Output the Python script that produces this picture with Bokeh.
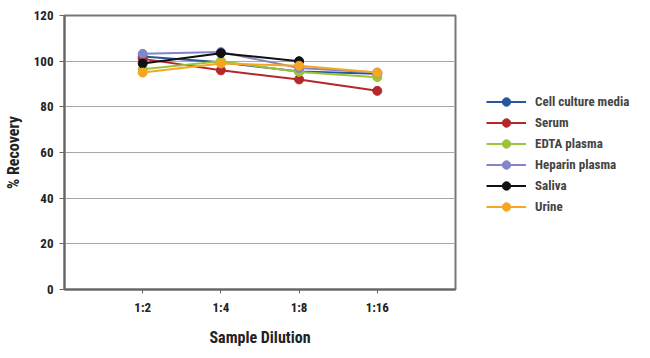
from bokeh.plotting import figure
from bokeh.models import FixedTicker, Legend, LegendItem, Range1d
from bokeh.embed import file_html
from bokeh.resources import INLINE
import numpy as np

dilutions = ["1:2", "1:4", "1:8", "1:16"]
x_pos = [1, 2, 3, 4]
cell_culture = [102, 99.5, 95.5, 94.5]
serum = [101, 96, 92, 87]
edta = [96.5, 100, 95.3, 93]
heparin = [103.2, 104, 97, 95]
saliva = [99, 103.5, 100, np.nan]
urine = [95, 99, 98, 95]
y_ticks = [0, 20, 40, 60, 80, 100, 120]

series = [
    ("Cell culture media", cell_culture, "#25569e"),
    ("Serum", serum, "#b3292b"),
    ("EDTA plasma", edta, "#9cc43a"),
    ("Heparin plasma", heparin, "#8385c6"),
    ("Saliva", saliva, "#111111"),
    ("Urine", urine, "#f6a623"),
]

FONT = "Roboto Condensed, Liberation Sans"

p = figure(output_backend="svg", toolbar_location=None,
           x_range=Range1d(0, 5), y_range=Range1d(0, 120),
           frame_width=391, frame_height=274,
           min_border_left=58, min_border_top=15, min_border_right=0, min_border_bottom=5)

items = []
for name, vals, col in series:
    r1 = p.line(x_pos, vals, line_color=col, line_width=2)
    r2 = p.scatter(x_pos, vals, size=9, fill_color=col, line_color=col)
    items.append(LegendItem(label=name, renderers=[r1, r2]))

legend = Legend(items=items, location=(31, 72), border_line_color=None,
                background_fill_alpha=0, label_text_font=FONT, label_text_font_style="bold",
                label_text_font_size="13px", label_height=21, glyph_height=21, glyph_width=40,
                spacing=0, padding=0, margin=0, label_standoff=9)
p.add_layout(legend, "right")

p.xaxis.ticker = FixedTicker(ticks=x_pos)
p.xaxis.major_label_overrides = {x: d for x, d in zip(x_pos, dilutions)}
p.yaxis.ticker = FixedTicker(ticks=y_ticks)

p.xgrid.grid_line_color = None
p.ygrid.grid_line_color = "#a8a8a8"
p.ygrid.grid_line_width = 1

p.outline_line_color = "#777777"
p.outline_line_width = 2

for ax in (p.xaxis, p.yaxis):
    ax.axis_line_color = "#666666"
    ax.axis_line_width = 2
    ax.major_tick_line_color = "#666666"
    ax.minor_tick_line_color = None
    ax.major_label_text_font = FONT
    ax.major_label_text_font_style = "bold"
    ax.major_label_text_font_size = "13px"
    ax.major_label_text_color = "#222222"
    ax.axis_label_text_font = FONT
    ax.axis_label_text_font_style = "bold"
    ax.axis_label_text_color = "#222222"

p.xaxis.major_tick_in = 0
p.xaxis.major_tick_out = 4
p.yaxis.major_tick_in = 0
p.yaxis.major_tick_out = 5
p.xaxis.major_label_standoff = 6
p.yaxis.major_label_standoff = 6
p.xaxis.axis_label = "Sample Dilution"
p.yaxis.axis_label = "% Recovery"
p.xaxis.axis_label_text_font_size = "16px"
p.yaxis.axis_label_text_font_size = "16px"
p.xaxis.axis_label_standoff = 10
p.yaxis.axis_label_standoff = 8

open("out.html", "w").write(file_html(p, INLINE))
